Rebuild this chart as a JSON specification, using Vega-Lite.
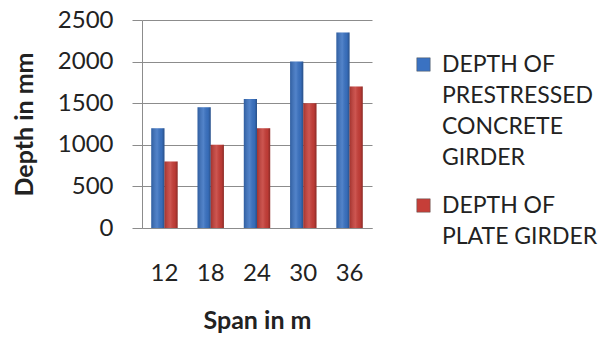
{
  "$schema": "https://vega.github.io/schema/vega-lite/v6.json",
  "autosize": "none",
  "width": 230,
  "height": 208,
  "padding": {"left": 142, "top": 20, "right": 235, "bottom": 109},
  "background": "white",
  "data": {"values": [
    {"span": "12", "series": "DEPTH OF PRESTRESSED CONCRETE GIRDER", "depth": 1200},
    {"span": "12", "series": "DEPTH OF PLATE GIRDER", "depth": 800},
    {"span": "18", "series": "DEPTH OF PRESTRESSED CONCRETE GIRDER", "depth": 1450},
    {"span": "18", "series": "DEPTH OF PLATE GIRDER", "depth": 1000},
    {"span": "24", "series": "DEPTH OF PRESTRESSED CONCRETE GIRDER", "depth": 1550},
    {"span": "24", "series": "DEPTH OF PLATE GIRDER", "depth": 1200},
    {"span": "30", "series": "DEPTH OF PRESTRESSED CONCRETE GIRDER", "depth": 2000},
    {"span": "30", "series": "DEPTH OF PLATE GIRDER", "depth": 1500},
    {"span": "36", "series": "DEPTH OF PRESTRESSED CONCRETE GIRDER", "depth": 2350},
    {"span": "36", "series": "DEPTH OF PLATE GIRDER", "depth": 1700}
  ]},
  "encoding": {
    "x": {
      "field": "span", "type": "nominal", "sort": null,
      "scale": {"paddingInner": 0.43, "paddingOuter": 0.2},
      "axis": {"title": "Span in m", "labelAngle": 0, "ticks": false, "labelPadding": 33, "titlePadding": 23, "domainColor": "#8c8c8c", "grid": false}
    },
    "xOffset": {"field": "series", "type": "nominal", "scale": {"domain": ["DEPTH OF PRESTRESSED CONCRETE GIRDER", "DEPTH OF PLATE GIRDER"]}},
    "y": {
      "field": "depth", "type": "quantitative",
      "scale": {"domain": [0, 2500]},
      "axis": {"title": "Depth in mm", "values": [0, 500, 1000, 1500, 2000, 2500], "format": "d", "ticks": true, "tickSize": 10, "tickColor": "#8c8c8c", "labelPadding": 19, "titlePadding": 20, "domainColor": "#8c8c8c", "gridColor": "#8c8c8c"}
    }
  },
  "layer": [
    {
      "mark": {"type": "bar"},
      "encoding": {
        "color": {
          "field": "series", "type": "nominal",
          "scale": {"domain": ["DEPTH OF PRESTRESSED CONCRETE GIRDER", "DEPTH OF PLATE GIRDER"], "range": ["#3a72c2", "#c63e38"]},
          "legend": {
            "title": null, "orient": "none", "legendX": 270, "legendY": 33,
            "symbolType": "square", "symbolSize": 180, "symbolStrokeColor": "#555", "symbolStrokeWidth": 0.5,
            "labelOffset": 7, "rowPadding": 24, "labelLimit": 300, "labelBaseline": "middle",
            "labelExpr": "datum.label == 'DEPTH OF PLATE GIRDER' ? ['DEPTH OF', 'PLATE GIRDER'] : ['DEPTH OF', 'PRESTRESSED', 'CONCRETE', 'GIRDER']"
          }
        }
      }
    },
    {
      "mark": {"type": "bar", "color": {"gradient": "linear", "x1": 0, "y1": 0, "x2": 1, "y2": 0, "stops": [{"offset": 0, "color": "rgba(0,0,0,0.18)"}, {"offset": 0.45, "color": "rgba(255,255,255,0.12)"}, {"offset": 0.8, "color": "rgba(0,0,0,0.05)"}, {"offset": 1, "color": "rgba(0,0,0,0.3)"}]}},
      "encoding": {}
    }
  ],
  "config": {
    "font": "Lato",
    "view": {"stroke": null},
    "axis": {"labelFontSize": 24, "labelColor": "#222", "titleFontSize": 25, "titleFontWeight": "bold", "titleColor": "#222", "labelFont": "Lato", "titleFont": "Lato"},
    "legend": {"labelFontSize": 23, "labelColor": "#222", "labelFont": "Lato"},
    "style": {"guide-label": {"lineHeight": 31}}
  }
}
